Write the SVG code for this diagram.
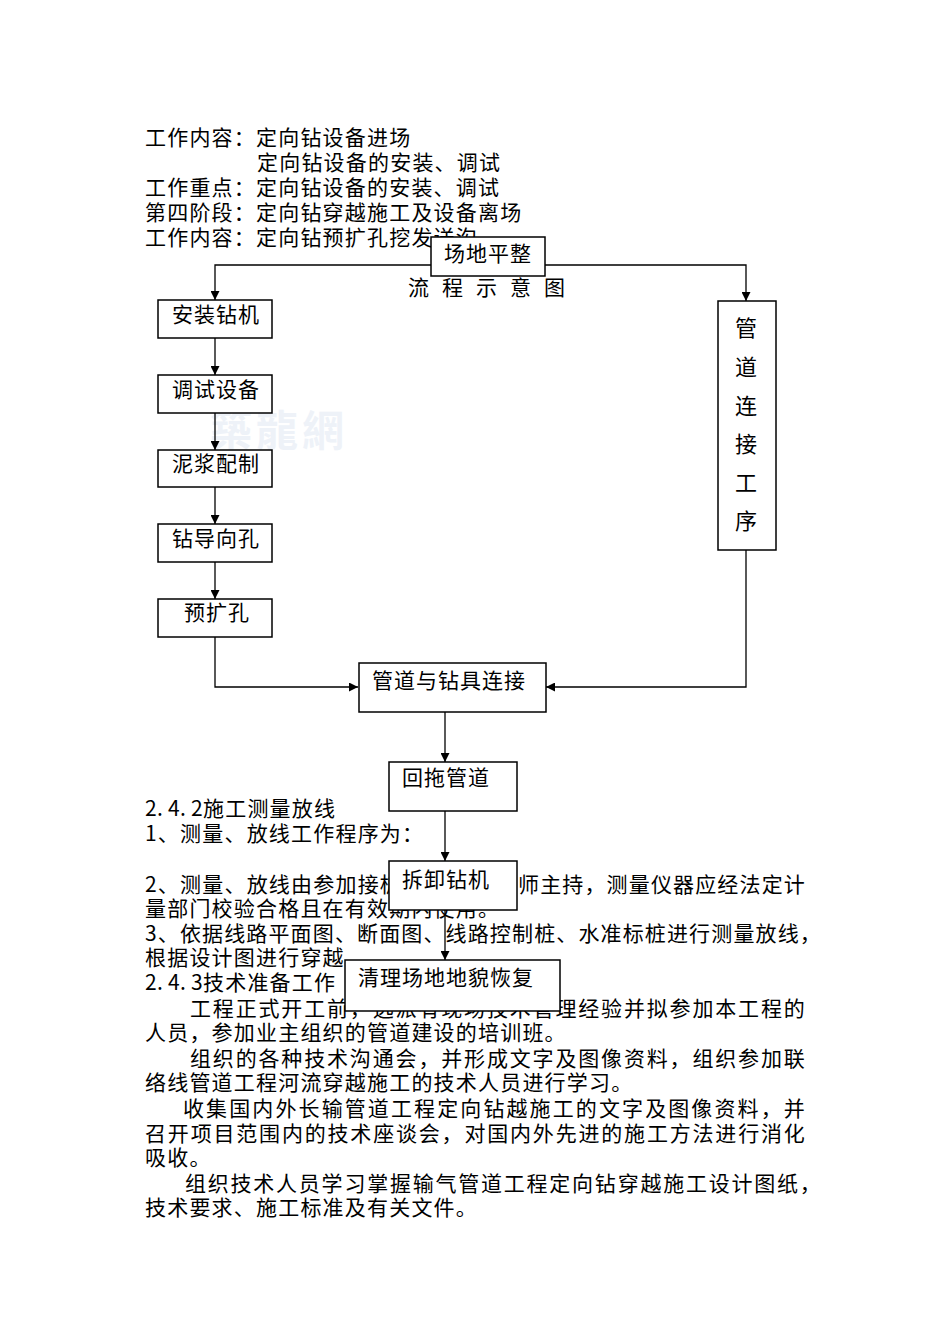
<svg xmlns="http://www.w3.org/2000/svg" width="950" height="1344" viewBox="0 0 950 1344">
<style>
.t{font-family:"Noto Sans CJK SC","Noto Sans",sans-serif;font-size:21px;letter-spacing:1.2px;fill:#000}
.n{font-family:"Noto Sans CJK SC","Noto Sans",sans-serif;font-size:21px;letter-spacing:1px;fill:#000}
.v{font-family:"Noto Sans CJK SC","Noto Sans",sans-serif;font-size:22px;fill:#000;text-anchor:middle}
.box{fill:#fff;stroke:#000;stroke-width:1.5}
.c{fill:none;stroke:#000;stroke-width:1.3}
.wm{font-family:"Noto Sans CJK TC","Noto Sans CJK SC",sans-serif;font-size:42px;font-weight:bold;fill:#eef2f8}
</style>
<defs>
<marker id="ah" viewBox="0 0 10 10" refX="10" refY="5" markerWidth="9" markerHeight="9" markerUnits="userSpaceOnUse" orient="auto">
<path d="M0,0 L10,5 L0,10 z" fill="#000"/>
</marker>
</defs>
<rect width="950" height="1344" fill="#fff"/>
<text class="wm" x="210" y="446" letter-spacing="4">築龍網</text>
<g id="body-text">
<text class="t" x="145" y="145">工作内容：定向钻设备进场</text>
<text class="t" x="257" y="170">定向钻设备的安装、调试</text>
<text class="t" x="145" y="195">工作重点：定向钻设备的安装、调试</text>
<text class="t" x="145" y="220">第四阶段：定向钻穿越施工及设备离场</text>
<text class="t" x="145" y="245">工作内容：定向钻预扩孔挖发送沟</text>
<text class="t" x="408" y="295" letter-spacing="0">流</text>
<text class="t" x="442" y="295" letter-spacing="0">程</text>
<text class="t" x="476" y="295" letter-spacing="0">示</text>
<text class="t" x="510" y="295" letter-spacing="0">意</text>
<text class="t" x="544" y="295" letter-spacing="0">图</text>
<text class="t" x="145 157 168 180 191 203" y="816">2.4.2施工测量放线</text>
<text class="t" x="145" y="841">1、测量、放线工作程序为：</text>
<text class="t" x="145" y="892">2、测量、放线由参加接桩</text>
<text class="t" x="518" y="892" textLength="288" lengthAdjust="spacing">师主持，测量仪器应经法定计</text>
<text class="t" x="145" y="916">量部门校验合格且在有效期内使用。</text>
<text class="t" x="145" y="941" textLength="677" lengthAdjust="spacing">3、依据线路平面图、断面图、线路控制桩、水准标桩进行测量放线，</text>
<text class="t" x="145" y="965">根据设计图进行穿越</text>
<text class="t" x="145 157 168 180 191 203" y="990">2.4.3技术准备工作</text>
<text class="t" x="190" y="1016" textLength="616" lengthAdjust="spacing">工程正式开工前，选派有现场技术管理经验并拟参加本工程的</text>
<text class="t" x="145" y="1040">人员，参加业主组织的管道建设的培训班。</text>
<text class="t" x="190" y="1066" textLength="616" lengthAdjust="spacing">组织的各种技术沟通会，并形成文字及图像资料，组织参加联</text>
<text class="t" x="145" y="1090">络线管道工程河流穿越施工的技术人员进行学习。</text>
<text class="t" x="183" y="1116" textLength="623" lengthAdjust="spacing">收集国内外长输管道工程定向钻越施工的文字及图像资料，并</text>
<text class="t" x="145" y="1141" textLength="661" lengthAdjust="spacing">召开项目范围内的技术座谈会，对国内外先进的施工方法进行消化</text>
<text class="t" x="145" y="1165">吸收。</text>
<text class="t" x="185" y="1191" textLength="637" lengthAdjust="spacing">组织技术人员学习掌握输气管道工程定向钻穿越施工设计图纸，</text>
<text class="t" x="145" y="1215">技术要求、施工标准及有关文件。</text>
</g>
<g id="connectors">
<polyline class="c" points="431,265 215,265 215,300" marker-end="url(#ah)"/>
<polyline class="c" points="545,265 746,265 746,301" marker-end="url(#ah)"/>
<line class="c" x1="215" y1="338" x2="215" y2="375" marker-end="url(#ah)"/>
<line class="c" x1="215" y1="413" x2="215" y2="450" marker-end="url(#ah)"/>
<line class="c" x1="215" y1="487" x2="215" y2="524" marker-end="url(#ah)"/>
<line class="c" x1="215" y1="562" x2="215" y2="599" marker-end="url(#ah)"/>
<polyline class="c" points="215,637 215,687 358,687" marker-end="url(#ah)"/>
<polyline class="c" points="746,550 746,687 546,687" marker-end="url(#ah)"/>
<line class="c" x1="445" y1="712" x2="445" y2="762" marker-end="url(#ah)"/>
<line class="c" x1="445" y1="811" x2="445" y2="861" marker-end="url(#ah)"/>
<line class="c" x1="445" y1="910" x2="445" y2="960" marker-end="url(#ah)"/>
</g>
<g id="n-site">
<rect class="box" x="431" y="237" width="114" height="39"/>
<text class="n" x="444" y="261">场地平整</text>
</g>
<g id="n-install">
<rect class="box" x="158" y="300" width="114" height="38"/>
<text class="n" x="172" y="322">安装钻机</text>
</g>
<g id="n-debug">
<rect class="box" x="158" y="375" width="114" height="38"/>
<text class="n" x="172" y="397">调试设备</text>
</g>
<g id="n-mud">
<rect class="box" x="158" y="450" width="114" height="37"/>
<text class="n" x="172" y="471">泥浆配制</text>
</g>
<g id="n-pilot">
<rect class="box" x="158" y="524" width="114" height="38"/>
<text class="n" x="172" y="546">钻导向孔</text>
</g>
<g id="n-ream">
<rect class="box" x="158" y="599" width="114" height="38"/>
<text class="n" x="184" y="620">预扩孔</text>
</g>
<g id="n-pipe">
<rect class="box" x="718" y="301" width="58" height="249"/>
<text class="v" x="746" y="336">管</text>
<text class="v" x="746" y="375">道</text>
<text class="v" x="746" y="414">连</text>
<text class="v" x="746" y="452">接</text>
<text class="v" x="746" y="491">工</text>
<text class="v" x="746" y="529">序</text>
</g>
<g id="n-connect">
<rect class="box" x="359" y="663" width="187" height="49"/>
<text class="n" x="372" y="688">管道与钻具连接</text>
</g>
<g id="n-pullback">
<rect class="box" x="389" y="762" width="128" height="49"/>
<text class="n" x="402" y="785">回拖管道</text>
</g>
<g id="n-dismantle">
<rect class="box" x="389" y="861" width="128" height="49"/>
<text class="n" x="402" y="887">拆卸钻机</text>
</g>
<g id="n-cleanup">
<rect class="box" x="345" y="960" width="215" height="51"/>
<text class="n" x="358" y="985">清理场地地貌恢复</text>
</g>
</svg>
